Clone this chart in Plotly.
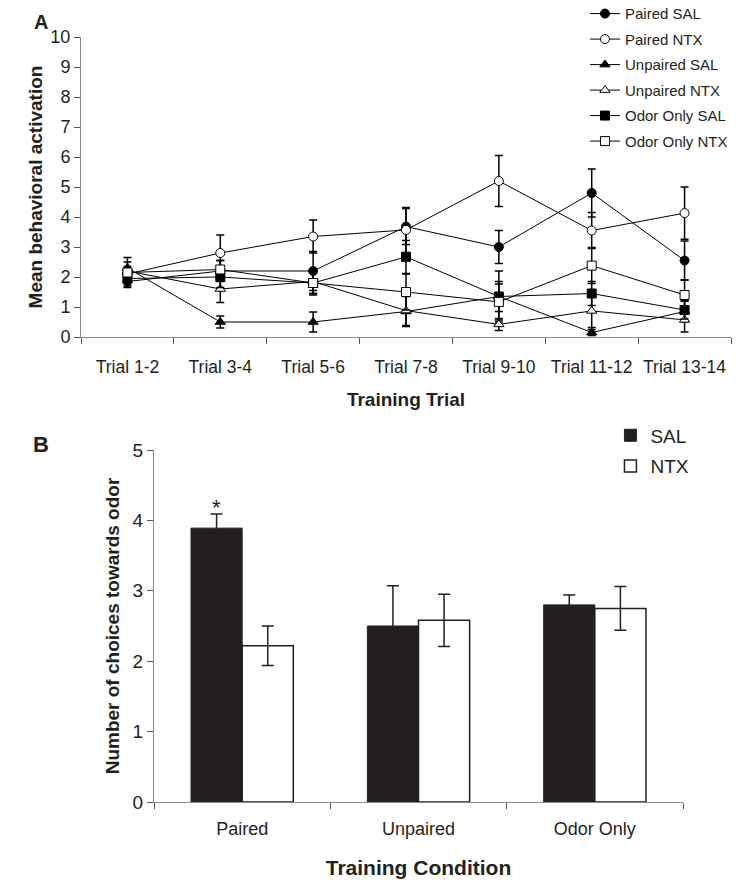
import plotly.graph_objects as go

# ---------------- Data ----------------
trials = ["Trial 1-2", "Trial 3-4", "Trial 5-6", "Trial 7-8", "Trial 9-10", "Trial 11-12", "Trial 13-14"]

paired_sal = [1.85, 2.2, 2.2, 3.68, 3.0, 4.8, 2.55]
paired_sal_err = [0.2, 0.35, 0.65, 0.6, 0.55, 0.8, 0.65]
paired_ntx = [2.1, 2.8, 3.35, 3.57, 5.2, 3.55, 4.13]
paired_ntx_err = [0.15, 0.6, 0.55, 0.75, 0.85, 0.6, 0.87]
unpaired_sal = [2.3, 0.5, 0.5, 0.85, 1.35, 0.15, 0.85]
unpaired_sal_err = [0.35, 0.2, 0.33, 0.5, 0.85, 0.1, 0.35]
unpaired_ntx = [2.2, 1.6, 1.85, 0.88, 0.42, 0.87, 0.57]
unpaired_ntx_err = [0.3, 0.45, 0.4, 0.5, 0.2, 0.55, 0.4]
odor_sal = [1.95, 2.0, 1.8, 2.67, 1.35, 1.45, 0.9]
odor_sal_err = [0.25, 0.35, 0.35, 0.55, 0.5, 0.4, 0.3]
odor_ntx = [2.15, 2.25, 1.8, 1.5, 1.17, 2.38, 1.4]
odor_ntx_err = [0.2, 0.3, 0.4, 0.6, 0.6, 0.6, 0.5]

conditions = ["Paired", "Unpaired", "Odor Only"]
sal_choices = [3.89, 2.5, 2.8]
sal_choices_err = [0.2, 0.57, 0.14]
ntx_choices = [2.22, 2.58, 2.75]
ntx_choices_err = [0.28, 0.37, 0.31]

FONT = "Liberation Sans, Arial, sans-serif"
W, H = 749, 886

fig = go.Figure()

line_series = [
    ("Paired SAL", paired_sal, paired_sal_err, "circle", "black"),
    ("Paired NTX", paired_ntx, paired_ntx_err, "circle", "white"),
    ("Unpaired SAL", unpaired_sal, unpaired_sal_err, "triangle-up", "black"),
    ("Unpaired NTX", unpaired_ntx, unpaired_ntx_err, "triangle-up", "white"),
    ("Odor Only SAL", odor_sal, odor_sal_err, "square", "black"),
    ("Odor Only NTX", odor_ntx, odor_ntx_err, "square", "white"),
]
for i, (name, vals, errs, sym, fill) in enumerate(line_series):
    fig.add_trace(go.Scatter(
        x=trials, y=vals, name=name, mode="lines+markers",
        line=dict(color="black", width=1),
        marker=dict(symbol=sym, size=9, color=fill, line=dict(color="black", width=1)),
        error_y=dict(type="data", array=errs, color="black", thickness=1.5, width=4),
        xaxis="x", yaxis="y", legend="legend", legendgroup=f"g{i}",
    ))

fig.add_trace(go.Bar(
    x=conditions, y=sal_choices, name="SAL",
    marker=dict(color="#231f20", line=dict(color="#231f20", width=1)),
    error_y=dict(type="data", array=sal_choices_err, color="#231f20", thickness=1.5, width=6),
    xaxis="x2", yaxis="y2", legend="legend2", legendgroup="b1",
))
fig.add_trace(go.Bar(
    x=conditions, y=ntx_choices, name="NTX",
    marker=dict(color="white", line=dict(color="#231f20", width=1.5)),
    error_y=dict(type="data", array=ntx_choices_err, color="#231f20", thickness=1.5, width=6),
    xaxis="x2", yaxis="y2", legend="legend2", legendgroup="b2",
))

axis_common = dict(showgrid=False, zeroline=False, showline=True, linecolor="#888888",
                   linewidth=1, ticks="outside", tickcolor="#555555", ticklen=6,
                   automargin=False)

fig.update_layout(
    width=W, height=H,
    margin=dict(l=0, r=0, t=0, b=0, autoexpand=False),
    paper_bgcolor="white", plot_bgcolor="white",
    font=dict(family=FONT, color="#231f20"),
    barmode="group", bargap=0.42, bargroupgap=0,
    xaxis=dict(domain=[81 / W, 731 / W], anchor="y", type="category",
               range=[-0.5, 6.5], tickson="boundaries", tickangle=0,
               tickfont=dict(size=17.5, family=FONT), ticklabelstandoff=14,
               title=dict(text="Training Trial", font=dict(size=19, family=FONT, weight="bold"), standoff=16),
               **axis_common),
    yaxis=dict(domain=[(H - 337) / H, (H - 37) / H], anchor="x", range=[0, 10],
               dtick=1, tickfont=dict(size=18, family=FONT),
               title=dict(text="Mean behavioral activation", font=dict(size=19, family=FONT, weight="bold"), standoff=2),
               **axis_common),
    xaxis2=dict(domain=[154 / W, 683 / W], anchor="y2", type="category",
                range=[-0.5, 2.5], tickson="boundaries", tickangle=0,
                tickfont=dict(size=18, family=FONT), ticklabelstandoff=10,
                title=dict(text="Training Condition", font=dict(size=21, family=FONT, weight="bold"), standoff=22),
                **axis_common),
    yaxis2=dict(domain=[(H - 802) / H, (H - 450) / H], anchor="x2", range=[0, 5],
                dtick=1, tickfont=dict(size=19, family=FONT),
                title=dict(text="Number of choices towards odor", font=dict(size=19, family=FONT, weight="bold"), standoff=7),
                **axis_common),
    legend=dict(x=0.781, y=1.003, xanchor="left", yanchor="top", traceorder="grouped",
                tracegroupgap=3, font=dict(size=15, family=FONT), bgcolor="rgba(0,0,0,0)"),
    legend2=dict(x=0.815, y=0.530, xanchor="left", yanchor="top", traceorder="grouped",
                 tracegroupgap=3, font=dict(size=19, family=FONT), bgcolor="rgba(0,0,0,0)"),
    annotations=[
        dict(text="A", x=32 / W, y=1 - 22 / H, xref="paper", yref="paper", xanchor="left",
             yanchor="middle", showarrow=False, font=dict(size=20, family=FONT, weight="bold")),
        dict(text="B", x=31 / W, y=1 - 444 / H, xref="paper", yref="paper", xanchor="left",
             yanchor="middle", showarrow=False, font=dict(size=22, family=FONT, weight="bold")),
        dict(text="*", x="Paired", y=sal_choices[0] + sal_choices_err[0], xref="x2", yref="y2",
             xshift=-25.5, yshift=-8, yanchor="bottom", showarrow=False, font=dict(size=22, family=FONT)),
    ],
)

fig.write_html("out.html", config={"displayModeBar": False},
               post_script="document.body.style.margin='0px';")
